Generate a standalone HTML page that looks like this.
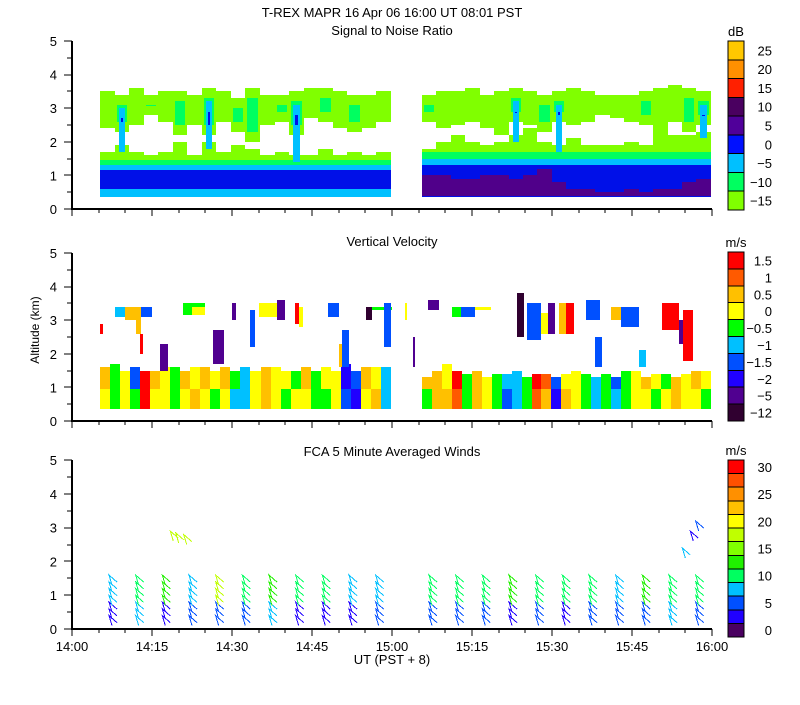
<!DOCTYPE html>
<html><head><meta charset="utf-8">
<style>
body{margin:0;background:#fff}
svg text{font-family:"Liberation Sans",sans-serif;font-size:13px;fill:#000}
</style></head>
<body>
<svg id="c" width="800" height="700" viewBox="0 0 800 700" shape-rendering="crispEdges">
<text x="392" y="17" text-anchor="middle">T-REX  MAPR 16 Apr 06   16:00 UT   08:01   PST</text>
<text x="392" y="35" text-anchor="middle">Signal to Noise Ratio</text>
<text x="392" y="246" text-anchor="middle">Vertical Velocity</text>
<text x="392" y="456" text-anchor="middle">FCA 5 Minute Averaged Winds</text>
<text x="392" y="664" text-anchor="middle">UT  (PST + 8)</text>
<text x="39" y="330" text-anchor="middle" transform="rotate(-90 39 330)" style="font-size:12px">Altitude (km)</text>
<g id="g"></g>
</svg>
<script>
// ---------- data ----------
const xTickLabels = ["14:00","14:15","14:30","14:45","15:00","15:15","15:30","15:45","16:00"];
const yTickLabels = ["0","1","2","3","4","5"];
const snrBarLabels = ["25","20","15","10","5","0","\u22125","\u221210","\u221215"];
const velBarLabels = ["1.5","1","0.5","0","\u22120.5","\u22121","\u22121.5","\u22122","\u22125","\u221212"];
const windBarLabels = ["30","","25","","20","","15","","10","","5","","0"];
// SNR segment 1 (14:05 - 15:00), 20 columns
const snr1LowTop = [1.7,1.9,1.7,1.6,1.7,2.0,1.6,2.0,1.7,1.9,1.8,1.6,1.7,1.6,1.6,1.8,1.6,1.7,1.6,1.7];
const snr1UpBot  = [2.4,2.3,2.5,2.8,2.6,2.2,2.5,2.2,2.6,2.3,2.0,2.5,2.6,2.2,2.7,2.6,2.4,2.3,2.4,2.6];
const snr1UpTop  = [3.5,3.4,3.6,3.4,3.5,3.5,3.4,3.6,3.5,3.3,3.6,3.4,3.4,3.5,3.6,3.6,3.5,3.4,3.4,3.5];
const snr1Core   = [0,2,0,1,0,1,0,2,0,1,1,0,1,2,0,1,0,1,0,0];
// SNR segment 2 (15:05 - 16:00), 20 columns
const snr2LowTop = [1.8,2.0,2.2,2.0,1.9,2.0,2.2,2.4,2.0,1.9,2.1,1.9,1.9,1.9,2.0,1.9,2.5,2.2,2.2,2.3];
const snr2UpBot  = [2.6,2.4,2.5,2.6,2.4,2.2,2.6,2.5,2.3,2.6,2.5,2.6,2.8,2.7,2.6,2.5,2.4,2.6,2.3,2.5];
const snr2UpTop  = [3.4,3.5,3.5,3.6,3.4,3.5,3.6,3.5,3.4,3.5,3.6,3.5,3.4,3.4,3.4,3.5,3.6,3.7,3.6,3.5];
const snr2Core   = [1,0,0,0,0,0,2,0,1,2,0,0,0,0,0,1,0,0,1,2];
const snr2PurpleTop = [1.0,1.0,0.9,0.9,1.0,1.0,0.9,1.0,1.2,0.8,0.6,0.6,0.5,0.5,0.6,0.5,0.6,0.6,0.8,0.9];
// vertical velocity lower layer, 29 columns per segment (m/s)
const vv1Low  = [0.25,-0.25,0.25,-0.25,1.75,0.25,0.25,-0.25,0.25,0.75,0.25,-0.25,0.25,-0.75,-0.75,0.25,0.75,0.25,-0.25,0.25,0.25,-0.25,-0.25,0.25,-1.25,-1.75,0.25,0.75,-0.75];
const vv1High = [0.75,-0.25,0.25,-1.25,1.75,0.75,0.25,-0.25,0.75,0.25,0.75,0.25,0.75,-0.25,-0.75,0.25,0.75,0.25,0.25,-0.25,0.75,-0.25,0.25,0.25,-1.75,-1.25,0.75,0.25,-0.75];
const vv1Top  = [1.6,1.7,1.5,1.6,1.5,1.5,1.6,1.6,1.5,1.6,1.6,1.5,1.6,1.5,1.6,1.5,1.6,1.6,1.5,1.5,1.6,1.5,1.6,1.5,1.7,1.5,1.6,1.6,1.6];
const vv2Low  = [-0.25,0.75,0.75,1.25,-0.25,0.75,0.25,-0.25,-1.25,-0.75,-0.25,1.25,0.75,-1.75,0.75,0.25,-0.25,-0.75,-0.25,-0.75,-0.25,0.25,0.25,-0.25,0.25,0.75,0.25,0.25,-0.25];
const vv2High = [0.75,0.75,0.25,1.75,-0.25,0.75,0.25,-0.25,-0.75,-0.75,-0.25,1.75,1.25,-1.25,0.25,0.25,-0.25,-0.75,-0.25,-1.25,-0.25,0.25,0.75,0.25,-0.25,0.75,0.25,0.75,0.25];
const vv2Top  = [1.3,1.5,1.7,1.5,1.4,1.5,1.3,1.4,1.4,1.5,1.3,1.4,1.4,1.3,1.4,1.5,1.4,1.3,1.4,1.3,1.5,1.5,1.3,1.4,1.4,1.3,1.4,1.5,1.5];
// upper velocity cells: start minute, end minute, bottom km, top km, value
const vvCellT0 = [5.3,8.1,10.0,12.0,13.0,12.7,16.5,20.8,22.5,26.5,30.0,33.4,35.0,38.5,41.8,42.5,48.0,50.0,50.7,56.0,55.2,58.5,62.5,64.0,66.7,71.2,73.0,75.5,83.5,85.3,88.0,89.3,91.3,92.6,96.3,98.0,101.0,103.0,106.4,110.7,113.8,114.5];
const vvCellT1 = [5.9,10.0,12.0,13.0,15.0,13.3,18.0,25.0,25.0,28.5,30.8,34.3,38.5,39.9,42.5,43.4,50.0,50.7,52.0,60.0,56.2,59.8,62.8,64.4,68.9,73.0,75.5,78.6,84.8,88.0,89.3,90.5,92.6,94.2,99.0,99.4,106.0,106.4,107.6,113.8,114.5,116.5];
const vvCellB  = [2.6,3.1,3.0,2.6,3.1,2.0,1.5,3.15,3.15,1.7,3.0,2.2,3.1,3.0,2.9,2.8,3.1,1.6,1.6,3.3,3.0,2.2,3.0,1.6,3.3,3.1,3.1,3.3,2.5,2.4,2.6,2.6,2.6,2.6,3.0,1.6,3.0,2.8,1.6,2.7,2.3,1.8];
const vvCellTp = [2.9,3.4,3.4,3.4,3.4,2.6,2.3,3.5,3.4,2.7,3.5,3.3,3.5,3.6,3.5,3.4,3.5,2.3,2.7,3.4,3.4,3.5,3.5,2.5,3.6,3.4,3.4,3.4,3.8,3.5,3.2,3.5,3.5,3.5,3.6,2.5,3.4,3.4,2.1,3.5,3.0,3.3];
const vvCellV  = [1.75,-0.75,0.75,0.75,-1.25,1.75,-3.5,-0.25,0.25,-3.5,-3.5,-1.25,0.25,-3.5,1.75,0.25,-1.25,0.75,-1.25,-0.25,-8.0,-1.25,0.25,-3.5,-3.5,-0.25,-1.25,0.25,-8.0,-1.25,0.25,-3.5,0.75,1.75,-1.25,-1.25,0.75,-1.25,-0.75,1.75,-3.5,1.75];
// 5-minute winds: station minutes and speeds (m/s)
const windT = [7.5,12.5,17.5,22.5,27.5,32.5,37.5,42.5,47.5,52.5,57.5,67.5,72.5,77.5,82.5,87.5,92.5,97.5,102.5,107.5,112.5,117.5];
const windLow  = [4,8,3,6,7,5,8,4,3,3,5,7,5,6,4,6,3,6,5,7,8,6];
const windHigh = [8,11,13,9,18,12,13,12,12,9,8,12,12,12,14,12,12,11,8,13,12,10];
const windLevels = [0.0,0.2,0.4,0.6,0.8,1.0,1.2];
const windUpT = [19.0,20.0,21.5,115.0,116.5,117.5];
const windUpH = [2.6,2.55,2.5,2.1,2.6,2.9];
const windUpS = [18,18,18,9,4,5];

// ---------- helpers ----------
const NS = "http://www.w3.org/2000/svg";
const g = document.getElementById("g");
const X = t => 72 + t / 120 * 640;
const Y1 = km => 209 - km * 33.6;
const Y2 = km => 421 - km * 33.6;
const Y3 = km => 629 - km * 33.8;
function mk(tag, attrs, parent) {
  const e = document.createElementNS(NS, tag);
  for (const k in attrs) e.setAttribute(k, attrs[k]);
  (parent || g).appendChild(e);
  return e;
}
const SNRC = {lime:"#80ff00", spring:"#00ff60", cyan:"#00c0ff", blue:"#0010e8", purple:"#50008a"};
function rect(x0, x1, y0, y1, fill, name, parent) {
  const r = mk("rect", {x: Math.round(x0), y: Math.round(Math.min(y0, y1)), width: Math.max(1, Math.round(x1) - Math.round(x0)), height: Math.max(1, Math.round(Math.max(y0, y1)) - Math.round(Math.min(y0, y1))), fill: fill}, parent);
  
  
  return r;
}

// ---------- SNR panel ----------
const pSnr = mk("g", {});


function snrSeg(t0, t1, lowTop, upBot, upTop, core, purpleTop, seg) {
  const n = lowTop.length, w = (t1 - t0) / n;
  for (let i = 0; i < n; i++) {
    const a = X(t0 + i * w), b = X(t0 + (i + 1) * w);
    let lay;
    if (seg === 1) lay = [[0.35,0.6,"cyan"],[0.6,1.15,"blue"],[1.15,1.3,"cyan"],[1.3,1.45,"spring"],[1.45,lowTop[i],"lime"]];
    else lay = [[0.35,1.3,"blue"],[1.3,1.5,"cyan"],[1.5,1.7,"spring"],[1.7,lowTop[i],"lime"]];
    lay.forEach(L => rect(a, b, Y1(L[0]), Y1(L[1]), SNRC[L[2]], "snr-cell", pSnr));
    if (purpleTop) rect(a, b, Y1(0.4), Y1(purpleTop[i]), SNRC.purple, "snr-cell", pSnr);
    rect(a, b, Y1(upBot[i]), Y1(upTop[i]), SNRC.lime, "snr-cell", pSnr);
    if (core[i] >= 1) rect(a + 2, b - 2, Y1(upBot[i] + 0.3), Y1(upTop[i] - 0.3), SNRC.spring, "snr-cell", pSnr);
    if (core[i] === 2) {
      rect(a + 4, b - 4, Y1(Math.min(upBot[i], lowTop[i]) - 0.2), Y1(upTop[i] - 0.4), SNRC.cyan, "snr-cell", pSnr);
      rect(a + 6, b - 6, Y1(upBot[i] + 0.3), Y1(upTop[i] - 0.7), SNRC.blue, "snr-cell", pSnr);
    }
  }
}
snrSeg(5.25, 59.8, snr1LowTop, snr1UpBot, snr1UpTop, snr1Core, null, 1);
snrSeg(65.6, 119.8, snr2LowTop, snr2UpBot, snr2UpTop, snr2Core, snr2PurpleTop, 2);

// ---------- Velocity panel ----------
const pVel = mk("g", {});


function velColor(v) {
  if (v > 1.5) return "#ff0000";
  if (v > 1) return "#ff5a00";
  if (v > 0.5) return "#ffc000";
  if (v > 0) return "#ffff00";
  if (v > -0.5) return "#00ff00";
  if (v > -1) return "#00c0ff";
  if (v > -1.5) return "#0050ff";
  if (v > -2) return "#2000ff";
  if (v > -5) return "#500090";
  return "#300030";
}
function velSeg(t0, t1, low, high, top) {
  const n = low.length, w = (t1 - t0) / n;
  for (let i = 0; i < n; i++) {
    const a = X(t0 + i * w), b = X(t0 + (i + 1) * w);
    rect(a, b, Y2(0.35), Y2(0.95), velColor(low[i]), "velocity-cell", pVel);
    rect(a, b, Y2(0.95), Y2(top[i]), velColor(high[i]), "velocity-cell", pVel);
  }
}
velSeg(5.25, 59.8, vv1Low, vv1High, vv1Top);
velSeg(65.6, 119.8, vv2Low, vv2High, vv2Top);
for (let i = 0; i < vvCellT0.length; i++) {
  rect(X(vvCellT0[i]), X(vvCellT1[i]), Y2(vvCellB[i]), Y2(vvCellTp[i]), velColor(vvCellV[i]), "velocity-cell", pVel);
}

// ---------- Wind panel ----------
const pWind = mk("g", {});


const windCols = ["#4a0060","#2000ff","#0050ff","#00c0ff","#00ff60","#20f000","#80ff00","#c0ff00","#ffff00","#ffc000","#ff9000","#ff5000","#ff0000"];
function windColor(s) { return windCols[Math.max(0, Math.min(12, Math.floor(s / 2.5)))]; }
function barb(t, h, s) {
  const x = X(t), y = Y3(h);
  const c = windColor(s);
  const p = mk("polyline", {points: `${x},${y} ${x - 3},${y - 10} ${x + 5},${y - 3}`, fill: "none", stroke: c, "stroke-width": 1, "shape-rendering": "crispEdges"}, pWind);
  
  
}
for (let i = 0; i < windT.length; i++) {
  windLevels.forEach(h => barb(windT[i], h + 0.1, h < 0.5 ? windLow[i] : windHigh[i]));
}
for (let i = 0; i < windUpT.length; i++) barb(windUpT[i], windUpH[i], windUpS[i]);

// ---------- axes ----------
function axes(Y, name) {
  const ax = mk("g", {stroke: "#000", "stroke-width": 2});
  
  
  mk("line", {x1: 72, y1: Y(0) + 1, x2: 72, y2: Y(5), stroke: "#000", "stroke-width": 2}, ax);
  mk("line", {x1: 71, y1: Y(0), x2: 712, y2: Y(0), stroke: "#000", "stroke-width": 2}, ax);
  for (let k = 0; k <= 10; k++) {
    const y = Math.round(Y(k / 2));
    mk("line", {x1: k % 2 ? 67 : 64, y1: y, x2: 72, y2: y, stroke: "#000", "stroke-width": 1}, ax);
  }
  yTickLabels.forEach((lab, k) => {
    const t = mk("text", {x: 57, y: Y(k) + 5, "text-anchor": "end", stroke: "none"});
    t.textContent = lab;
    
    
  });
  for (let m = 0; m <= 120; m += 5) {
    const x = Math.round(X(m));
    mk("line", {x1: x, y1: Y(0), x2: x, y2: Y(0) + (m % 15 ? 4 : 7), stroke: "#000", "stroke-width": 1}, ax);
  }
}
axes(Y1, "snr-axes"); axes(Y2, "velocity-axes"); axes(Y3, "winds-axes");
xTickLabels.forEach((lab, k) => {
  const t = mk("text", {x: X(k * 15), y: 651, "text-anchor": "middle"});
  t.textContent = lab;
  
  
});

// ---------- colour bars ----------
function colorbar(top, bottom, cols, labels, unit, name) {
  const cb = mk("g", {});
  
  
  const h = (bottom - top) / cols.length;
  cols.forEach((c, i) => {
    const r = mk("rect", {x: 728, y: top + i * h, width: 16, height: h, fill: c, stroke: "#000", "stroke-width": 1}, cb);
    
    
    if (labels[i]) {
      const t = mk("text", {x: 772, y: top + i * h + h / 2 + 5, "text-anchor": "end"}, cb);
      t.textContent = labels[i];
      
      
    }
  });
  const u = mk("text", {x: 736, y: top - 5, "text-anchor": "middle"}, cb);
  u.textContent = unit;
  
  
}
colorbar(41, 210, ["#ffc800","#ff9000","#ff2000","#4a0060","#50009a","#0010ff","#00c0ff","#00ff60","#80ff00"], snrBarLabels, "dB", "snr-colorbar");
colorbar(252, 421, ["#ff0000","#ff5a00","#ffc000","#ffff00","#00ff00","#00c0ff","#0050ff","#2000ff","#500090","#300030"], velBarLabels, "m/s", "velocity-colorbar");
colorbar(460, 637, windCols.slice().reverse(), windBarLabels, "m/s", "winds-colorbar");
</script>
</body></html>
